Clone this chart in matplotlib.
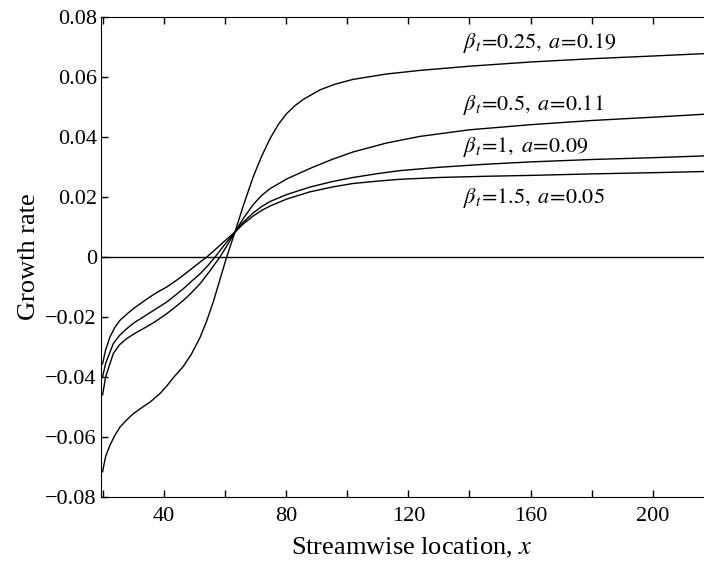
'''Growth rate versus streamwise location for several beta_t values.'''

# ----------------------------------------------------------------------------
# Modules

from matplotlib import pyplot as plt

# ----------------------------------------------------------------------------
# Data

x_a = [20, 21, 22.4, 24, 25.7, 28, 30.1, 33, 35.5, 38.8, 41, 43.1, 46.4, 49,
       51.9, 54, 56.2, 58.4, 60.6, 63.3, 66, 69.3, 72, 74.8, 77.5, 80.2, 83,
       85.6, 91.1, 96, 101.9, 112.9, 123.8, 140, 160, 180, 200, 217]
y_a = [-0.0716, -0.0665, -0.0628, -0.0595, -0.0567, -0.0542, -0.0522, -0.0501,
       -0.0484, -0.0455, -0.0430, -0.0403, -0.0365, -0.0325, -0.0268, -0.0215,
       -0.0150, -0.0075, 0.0, 0.0083, 0.0170, 0.0268, 0.0335, 0.0395, 0.0442,
       0.0478, 0.0505, 0.0525, 0.0557, 0.0576, 0.0592, 0.0610, 0.0622, 0.0636,
       0.0650, 0.0661, 0.0670, 0.0678]

x_b = [20, 21, 23.5, 25.5, 27.9, 30.5, 33.3, 37, 41, 44, 46.4, 49, 51.9, 55,
       58.4, 61, 63.3, 66, 69.3, 72, 74.8, 80.2, 87.8, 95, 101.9, 112.9, 123.8,
       140, 160, 180, 200, 217]
y_b = [-0.046, -0.040, -0.0322, -0.0293, -0.0272, -0.0255, -0.0239, -0.0217,
       -0.0189, -0.0165, -0.0145, -0.0120, -0.0089, -0.0048, 0.0, 0.0043,
       0.0083, 0.0128, 0.0175, 0.0205, 0.0228, 0.0260, 0.0295, 0.0325, 0.0350,
       0.0380, 0.0402, 0.0424, 0.0441, 0.0455, 0.0466, 0.0476]

x_c = [20, 21, 23.5, 25.5, 27.9, 30.5, 33.3, 37, 41, 44, 46.4, 49, 51.9, 54.5,
       56.8, 60, 63.3, 66, 69.3, 72, 74.8, 80.2, 87.8, 95, 101.9, 110, 117.3,
       130, 145, 160, 180, 200, 217]
y_c = [-0.040, -0.0355, -0.0289, -0.0262, -0.0239, -0.0218, -0.0200, -0.0176,
       -0.0150, -0.0126, -0.0106, -0.0082, -0.0056, -0.0028, 0.0, 0.0042,
       0.0083, 0.0116, 0.0147, 0.0168, 0.0185, 0.0208, 0.0233, 0.0251, 0.0265,
       0.0278, 0.0288, 0.0299, 0.0309, 0.0317, 0.0325, 0.0331, 0.0337]

x_d = [20, 21, 22.4, 24, 25.7, 28, 30.1, 33, 35.5, 38, 41, 44, 46.4, 49, 51.9,
       54.1, 57, 60, 63.3, 66, 69.3, 72, 74.8, 80.2, 87.8, 95, 101.9, 110,
       117.3, 130, 145, 160, 180, 200, 217]
y_d = [-0.0356, -0.031, -0.0267, -0.0235, -0.0211, -0.019, -0.0172, -0.0151,
       -0.0133, -0.0117, -0.0100, -0.0079, -0.0061, -0.0040, -0.0017, 0.0,
       0.0026, 0.0054, 0.0083, 0.0110, 0.0137, 0.0155, 0.0170, 0.0193, 0.0217,
       0.0233, 0.0245, 0.0253, 0.0259, 0.0265, 0.0269, 0.0272, 0.0277, 0.0281,
       0.0285]

labels = [r'$\beta_t\!=\!0.25,\; a\!=\!0.19$',
          r'$\beta_t\!=\!0.5,\; a\!=\!0.11$',
          r'$\beta_t\!=\!1,\; a\!=\!0.09$',
          r'$\beta_t\!=\!1.5,\; a\!=\!0.05$']
label_y = [0.0712, 0.0508, 0.0368, 0.0198]

x_ticks = [40, 80, 120, 160, 200]
x_minor = [20, 60, 100, 140, 180]
y_ticks = [-0.08, -0.06, -0.04, -0.02, 0, 0.02, 0.04, 0.06, 0.08]
y_tick_labels = ['\u22120.08', '\u22120.06', '\u22120.04', '\u22120.02', '0',
                 '0.02', '0.04', '0.06', '0.08']

# ----------------------------------------------------------------------------


def main():

    plt.rcParams['font.family'] = 'Liberation Serif'
    plt.rcParams['mathtext.fontset'] = 'stix'

    figure = plt.figure(figsize=(7.04, 5.65), dpi=100)
    ax = figure.add_axes([0.1435, 0.1204, 0.8565, 0.8495])

    for xs, ys in [(x_a, y_a), (x_b, y_b), (x_c, y_c), (x_d, y_d)]:
        ax.plot(xs, ys, color='black', linewidth=1.0)

    ax.axhline(0, color='black', linewidth=1.0)

    for text, yy in zip(labels, label_y):
        ax.text(137.9, yy, text, fontsize=16, va='center', ha='left')

    ax.set_xlim(19.5, 216.7)
    ax.set_ylim(-0.08, 0.08)
    ax.set_xticks(x_ticks)
    ax.set_xticks(x_minor, minor=True)
    ax.set_yticks(y_ticks)
    ax.set_yticklabels(y_tick_labels)
    ax.tick_params(which='both', direction='in', length=5, width=1,
                   top=True, right=False, labelsize=16)
    ax.tick_params(axis='x', pad=7)
    ax.tick_params(axis='y', pad=3)
    ax.spines['right'].set_visible(False)

    ax.set_xlabel(r'Streamwise location, $x$', fontsize=19)
    ax.xaxis.set_label_coords(0.515, -0.082)
    ax.set_ylabel('Growth rate', fontsize=19, labelpad=4)

    figure.savefig('out.png', dpi=100)

    return None

# ----------------------------------------------------------------------------


if __name__ == "__main__":
    main()
